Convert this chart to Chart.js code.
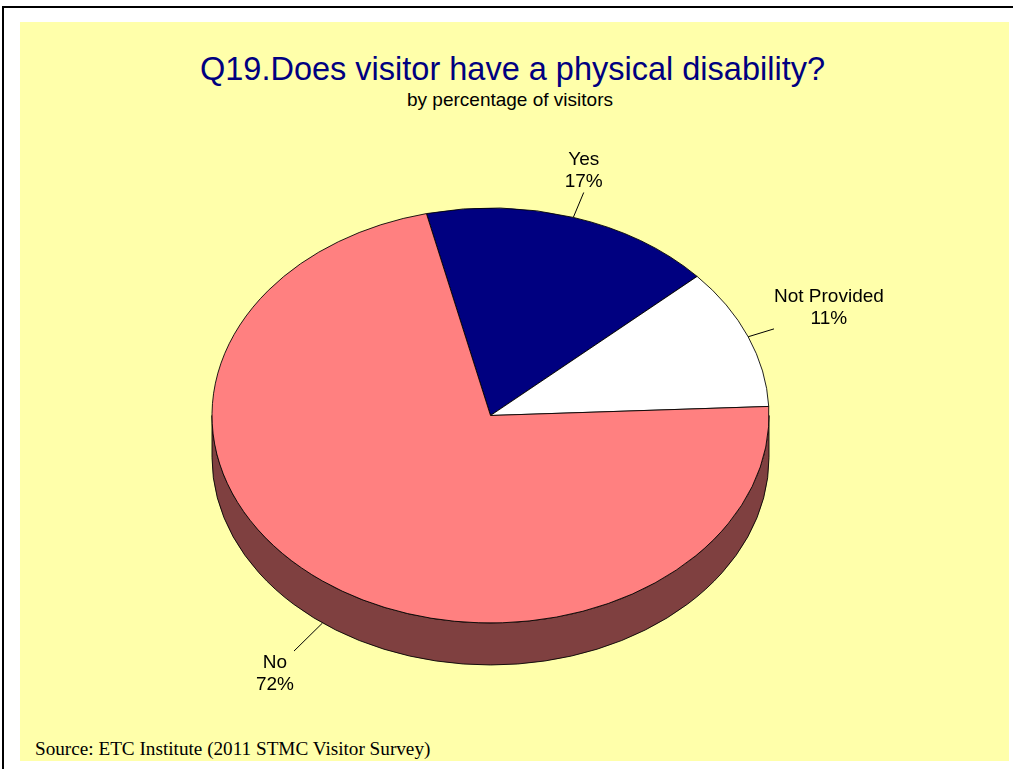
<!DOCTYPE html>
<html>
<head>
<meta charset="utf-8">
<title>Q19 physical disability</title>
<script src="https://cdn.jsdelivr.net/npm/chart.js@4.4.1/dist/chart.umd.min.js"></script>
<style>
  body {
    margin: 0;
    width: 1013px;
    height: 769px;
    overflow: hidden;
    position: relative;
    background: #fff;
    font-family: "Liberation Sans", Arial, sans-serif;
  }
  .frame-top { position: absolute; left: 2px; top: 6px; width: 1011px; height: 2px; background: #000; }
  .frame-left { position: absolute; left: 2px; top: 6px; width: 2px; height: 763px; background: #000; }
  #panel { position: absolute; left: 20px; top: 22px; width: 989px; height: 739px; background: #FFFFAA; }
  #title {
    position: absolute; left: 0; width: 1025px; top: 53px;
    text-align: center; font-size: 32.5px; line-height: 32px; color: #000080;
  }
  #subtitle {
    position: absolute; left: 0; width: 1020px; top: 90px;
    text-align: center; font-size: 19px; line-height: 19px; color: #000;
  }
  #source {
    position: absolute; left: 35px; top: 740px;
    font-family: "Liberation Serif", "Times New Roman", serif;
    font-size: 19.2px; line-height: 18px; color: #000;
  }
  #chart { position: absolute; left: 0; top: 0; }
</style>
</head>
<body>
<div class="frame-top"></div>
<div class="frame-left"></div>
<div id="panel"></div>
<div id="title">Q19.Does visitor have a physical disability?</div>
<div id="subtitle">by percentage of visitors</div>
<div id="source">Source: ETC Institute (2011 STMC Visitor Survey)</div>
<canvas id="chart" width="1013" height="769"></canvas>

<script>
// data
const categories = ["Yes", "Not Provided", "No"];
const percentages = [17, 11, 72];
const sliceColors = ["#000080", "#FFFFFF", "#FF8080"];

// look of the tilted pie
const TILT = 0.745;      // vertical squash of the pie top
const DEPTH = 42;        // thickness of the pie side, px
const LABEL_FONT = '19px "Liberation Sans", Arial, sans-serif';
const LINE_HEIGHT = 22;

// half the brightness for the side walls
const darken = (hex) => {
  const n = parseInt(hex.slice(1), 16);
  const r = (n >> 16) & 255, g = (n >> 8) & 255, b = n & 255;
  return `rgb(${r >> 1},${g >> 1},${b >> 1})`;
};

const tiltPlugin = {
  id: "tilt3d",
  beforeDatasetsDraw(chart) {
    const ctx = chart.ctx;
    const meta = chart.getDatasetMeta(0);
    const { x, y, outerRadius: r } = meta.data[0];
    ctx.save();
    ctx.translate(x, y);
    ctx.scale(1, TILT);
    ctx.translate(-x, -y);

    // side walls: only the part of each slice facing the viewer (0..PI)
    const d = DEPTH / TILT;
    meta.data.forEach((arc, i) => {
      for (let n = -1; n <= 1; n++) {
        const lo = Math.max(arc.startAngle, 2 * Math.PI * n);
        const hi = Math.min(arc.endAngle, 2 * Math.PI * n + Math.PI);
        if (hi <= lo) continue;
        ctx.beginPath();
        ctx.arc(x, y, r, lo, hi);
        ctx.lineTo(x + r * Math.cos(hi), y + d + r * Math.sin(hi));
        ctx.arc(x, y + d, r, hi, lo, true);
        ctx.closePath();
        ctx.fillStyle = darken(sliceColors[i]);
        ctx.fill();
        ctx.lineWidth = 1;
        ctx.strokeStyle = "#000";
        ctx.stroke();
      }
    });
  },
  afterDatasetsDraw(chart) {
    const ctx = chart.ctx;
    ctx.restore();

    // labels with leader lines
    const meta = chart.getDatasetMeta(0);
    ctx.save();
    ctx.font = LABEL_FONT;
    ctx.fillStyle = "#000";
    ctx.strokeStyle = "#000";
    ctx.lineWidth = 1;
    meta.data.forEach((arc, i) => {
      const mid = (arc.startAngle + arc.endAngle) / 2;
      const ux = Math.cos(mid), uy = Math.sin(mid);
      const ax = arc.x + arc.outerRadius * ux;
      const ay = arc.y + arc.outerRadius * TILT * uy + (uy > 0 ? DEPTH : 0);
      const len = Math.hypot(ux, uy * TILT);
      const dx = ux / len, dy = (uy * TILT) / len;
      const lead = uy > 0 ? 40 : 27;
      const ex = ax + dx * lead, ey = ay + dy * lead;

      ctx.beginPath();
      ctx.moveTo(ax, ay);
      ctx.lineTo(ex, ey);
      ctx.stroke();

      const lines = [categories[i], percentages[i] + "%"];
      const w = Math.max(...lines.map((t) => ctx.measureText(t).width));
      let cx;
      if (Math.abs(dx) < 0.5) cx = ex;
      else if (dx > 0) cx = ex + w / 2;
      else cx = ex - w / 2;
      const firstBase = dy < 0 ? ey - 5 - LINE_HEIGHT * (lines.length - 1) : ey + 17;
      ctx.textAlign = "center";
      ctx.textBaseline = "alphabetic";
      lines.forEach((t, k) => ctx.fillText(t, cx, firstBase + k * LINE_HEIGHT));
    });
    ctx.restore();
  },
};

new Chart(document.getElementById("chart"), {
  type: "pie",
  data: {
    labels: categories,
    datasets: [
      {
        data: percentages,
        backgroundColor: sliceColors,
        borderColor: "#000",
        borderWidth: 1,
        radius: 278.5,
        clip: false,
      },
    ],
  },
  options: {
    responsive: false,
    devicePixelRatio: 1,
    animation: false,
    events: [],
    rotation: -13.3,
    layout: { padding: { left: 212, right: 244, top: 137, bottom: 75 } },
    plugins: {
      legend: { display: false },
      tooltip: { enabled: false },
    },
  },
  plugins: [tiltPlugin],
});
</script>
</body>
</html>
